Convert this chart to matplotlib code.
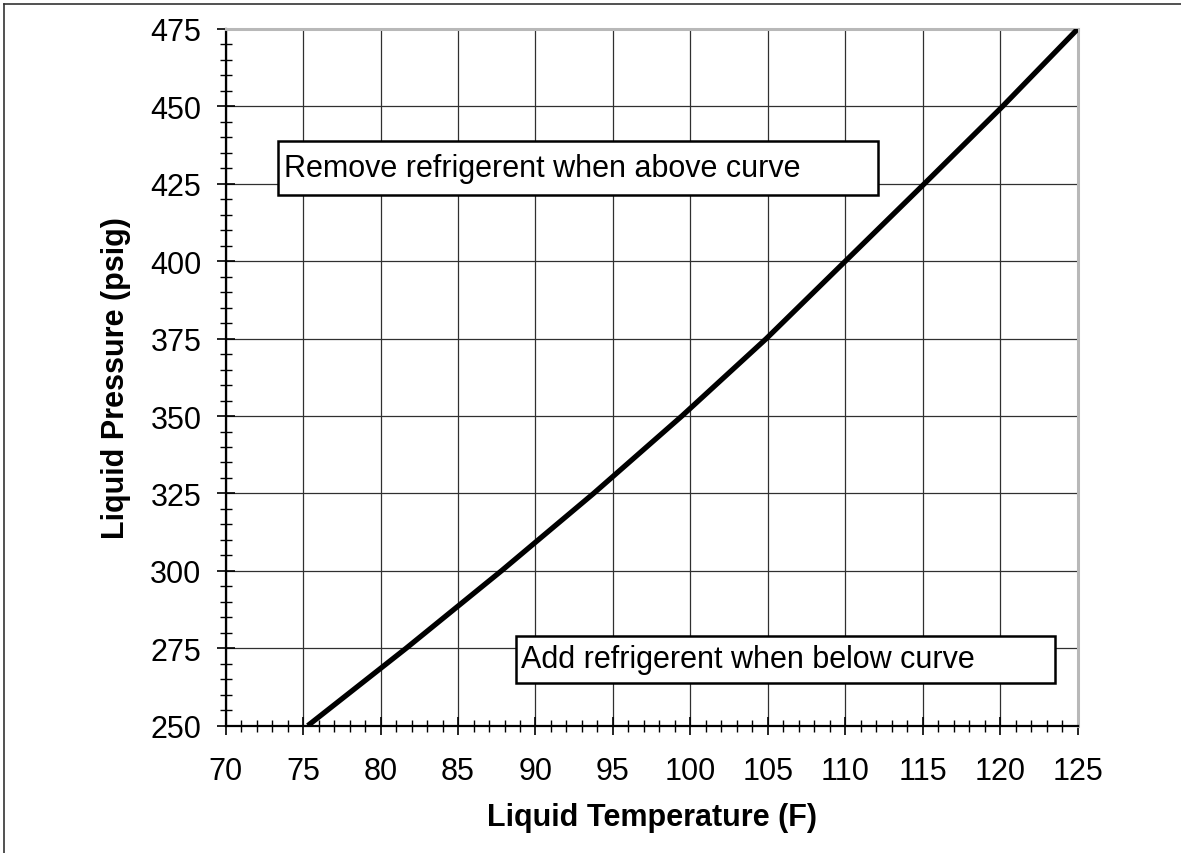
import matplotlib
matplotlib.use("Agg")
import matplotlib.pyplot as plt
from matplotlib.patches import Rectangle
from matplotlib.lines import Line2D
from matplotlib.ticker import MultipleLocator

plt.rcParams['font.family'] = ['Liberation Sans', 'DejaVu Sans']

# curve: temperature (F) where pressure crosses each gridline
temps = [75.3, 81.65, 87.8, 93.75, 99.45, 104.9, 110.0, 115.1, 120.15, 125.0]
pressures = [250, 275, 300, 325, 350, 375, 400, 425, 450, 475]

x_ticks = list(range(70, 126, 5))
y_ticks = list(range(250, 476, 25))

fig = plt.figure(figsize=(11.81, 8.54), dpi=100)
ax = fig.add_axes([0.1911, 0.1491, 0.7214, 0.8158])

# outer frame of the figure (runs off the right and bottom edges)
fig.add_artist(Line2D([4 / 1181, 4 / 1181], [-0.1, 1 - 4.5 / 854], color='#333333', lw=1.2))
fig.add_artist(Line2D([4 / 1181, 1.1], [1 - 4.5 / 854, 1 - 4.5 / 854], color='#333333', lw=1.2))

ax.plot(temps, pressures, color='black', lw=3.8, solid_capstyle='butt', zorder=3)

ax.set_xlim(70, 125)
ax.set_ylim(250, 475)
ax.set_xticks(x_ticks)
ax.set_yticks(y_ticks)
ax.xaxis.set_minor_locator(MultipleLocator(1))
ax.yaxis.set_minor_locator(MultipleLocator(5))
ax.grid(True, which='major', color='#303030', lw=0.9, zorder=0)

ax.tick_params(which='major', direction='inout', length=13, width=1.2, color='black',
               labelsize=22)
ax.tick_params(axis='x', which='major', pad=15)
ax.tick_params(axis='y', which='major', pad=11)
ax.tick_params(which='minor', direction='inout', length=9, width=1.0, color='black')

for side in ['left', 'bottom']:
    ax.spines[side].set_color('black')
    ax.spines[side].set_linewidth(1.6)
for side in ['top', 'right']:
    ax.spines[side].set_color('#b8b8b8')
    ax.spines[side].set_linewidth(2.2)

ax.set_xlabel('Liquid Temperature (F)', fontsize=22, fontweight='bold', labelpad=12)
ax.set_ylabel('Liquid Pressure (psig)', fontsize=22, fontweight='bold', labelpad=14)

# note boxes
ax.add_patch(Rectangle((0.0614, 0.7615), 0.7042, 0.0778, transform=ax.transAxes,
                       facecolor='white', edgecolor='black', lw=1.8, zorder=4))
ax.text(0.0685, 0.8003, 'Remove refrigerent when above curve', transform=ax.transAxes,
        fontsize=22, va='center', ha='left', zorder=5)

ax.add_patch(Rectangle((0.3407, 0.0613), 0.6327, 0.0675, transform=ax.transAxes,
                       facecolor='white', edgecolor='black', lw=1.8, zorder=4))
ax.text(0.3467, 0.0957, 'Add refrigerent when below curve', transform=ax.transAxes,
        fontsize=22, va='center', ha='left', zorder=5)

fig.savefig('out.png', dpi=100)
